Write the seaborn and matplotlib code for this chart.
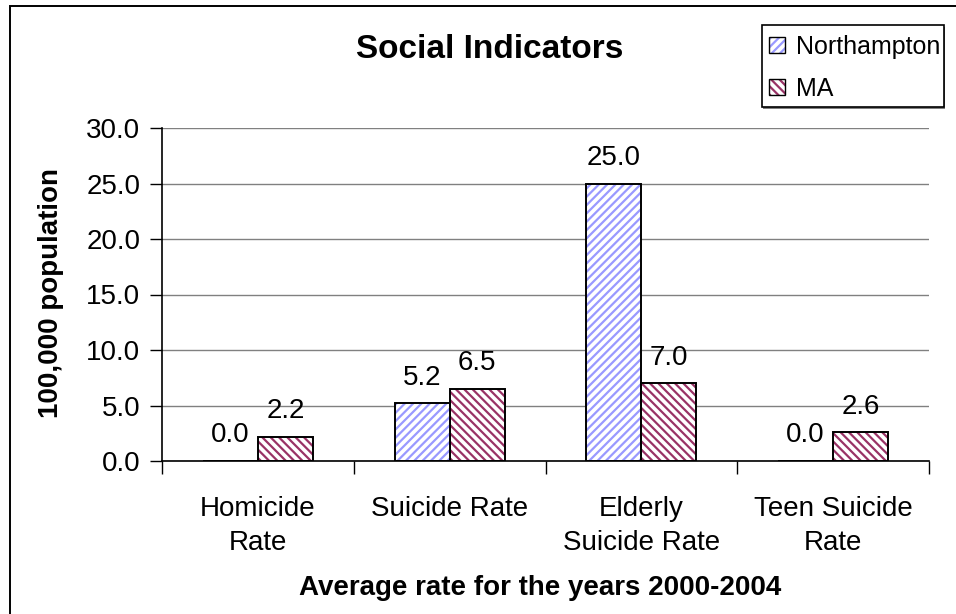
import matplotlib
matplotlib.use("Agg")
import matplotlib.pyplot as plt
from matplotlib.patches import Rectangle, Patch
import seaborn as sns
import pandas as pd

# ---- data ----
categories = ["Homicide\nRate", "Suicide Rate", "Elderly\nSuicide Rate", "Teen Suicide\nRate"]
series = ["Northampton", "MA"]
northampton = [0.0, 5.2, 25.0, 0.0]
ma = [2.2, 6.5, 7.0, 2.6]
yticks = [0, 5, 10, 15, 20, 25, 30]

title = "Social Indicators"
xlabel = "Average rate for the years 2000-2004"
ylabel = "100,000 population"

hatch_colors = {"Northampton": "#9999FF", "MA": "#993366"}
hatches = {"Northampton": "////", "MA": "\\\\\\\\"}

df = pd.DataFrame({
    "category": categories * 2,
    "series": [series[0]] * len(categories) + [series[1]] * len(categories),
    "value": northampton + ma,
})

sns.set_style("white")
plt.rcParams["font.family"] = ["Liberation Sans", "DejaVu Sans"]
plt.rcParams["hatch.linewidth"] = 1.6
for k in ["text.color", "axes.labelcolor", "xtick.color", "ytick.color"]:
    plt.rcParams[k] = "black"

FS = 20
W, H = 956, 614

fig = plt.figure(figsize=(9.56, 6.14), dpi=100)
ax = fig.add_axes([162 / W, 1 - 461 / H, (929 - 162) / W, (461 - 128) / H])

sns.barplot(data=df, x="category", y="value", hue="series", order=categories,
            hue_order=series, palette={"Northampton": "white", "MA": "white"},
            width=0.574, gap=0, errorbar=None, ax=ax, legend=False, saturation=1)

for cont, s in zip(ax.containers, series):
    for p in cont:
        p.set_hatch(hatches[s])
        p.set_edgecolor(hatch_colors[s])
        p.set_linewidth(0)
        ax.add_patch(Rectangle(p.get_xy(), p.get_width(), p.get_height(), fill=False,
                               edgecolor="black", linewidth=1.4, zorder=p.get_zorder() + 0.1))
    ax.bar_label(cont, labels=[f"{v:.1f}" for v in cont.datavalues], padding=9,
                 fontsize=FS, color="black")

ax.set_ylim(0, 30)
ax.set_xlim(-0.5, len(categories) - 0.5)
ax.set_yticks(yticks)
ax.set_yticklabels([f"{v:.1f}" for v in yticks], fontsize=FS)
ax.yaxis.grid(True, color="#808080", linewidth=1.0)
ax.set_axisbelow(True)
ax.tick_params(axis="y", direction="out", length=9, width=1, pad=6.5, left=True, color="black")
ax.tick_params(axis="x", which="major", length=0, pad=25, labelsize=FS)
for t in ax.get_xticklabels():
    t.set_linespacing(1.4)
    t.set_verticalalignment("top")
ax.set_xticks([i + 0.5 for i in range(-1, len(categories))], minor=True)
ax.tick_params(axis="x", which="minor", direction="out", length=9, width=1, bottom=True, color="black")
ax.set_xlabel("")
ax.set_ylabel("")
for side in ["top", "right"]:
    ax.spines[side].set_visible(False)
for side in ["left", "bottom"]:
    ax.spines[side].set_color("black")
    ax.spines[side].set_linewidth(1.2)

fig.text(490 / W, 1 - 58 / H, title, fontsize=24, fontweight="bold", ha="center", va="baseline")
fig.text(540 / W, 1 - 595 / H, xlabel, fontsize=20, fontweight="bold", ha="center", va="baseline")
fig.text(51 / W, 1 - 293.5 / H, ylabel, fontsize=20, fontweight="bold", ha="center", va="center",
         rotation=90)

# legend (frame drawn separately for exact Excel-like padding)
handles = []
for s in series:
    handles.append((Patch(facecolor="white", edgecolor=hatch_colors[s], hatch=hatches[s], linewidth=0),
                    Patch(facecolor="none", edgecolor="black", linewidth=1.0)))
leg = fig.legend(handles, series, loc="upper left", bbox_to_anchor=(769 / W, 1 - 35 / H),
                 borderaxespad=0, borderpad=0, fontsize=18, frameon=False,
                 handlelength=0.62, handleheight=0.62, handletextpad=0.45, labelspacing=0.72)
lx0, ly0, lx1, ly1 = 762, 25, 944, 107
fig.patches.append(Rectangle(((lx0 + 1) / W, 1 - (ly1 + 2) / H), (lx1 - lx0) / W, (ly1 - ly0) / H,
                             facecolor="#808080", edgecolor="none", transform=fig.transFigure,
                             figure=fig, zorder=0))
fig.patches.append(Rectangle((lx0 / W, 1 - ly1 / H), (lx1 - lx0) / W, (ly1 - ly0) / H,
                             facecolor="white", edgecolor="black", linewidth=1.2,
                             transform=fig.transFigure, figure=fig, zorder=0.5))

fig.patches.append(Rectangle((10 / W, -0.05), 1.2, 1 - 6 / H + 0.05, fill=False,
                             edgecolor="black", linewidth=1.4, transform=fig.transFigure, figure=fig))

fig.savefig("out.png", dpi=100)
